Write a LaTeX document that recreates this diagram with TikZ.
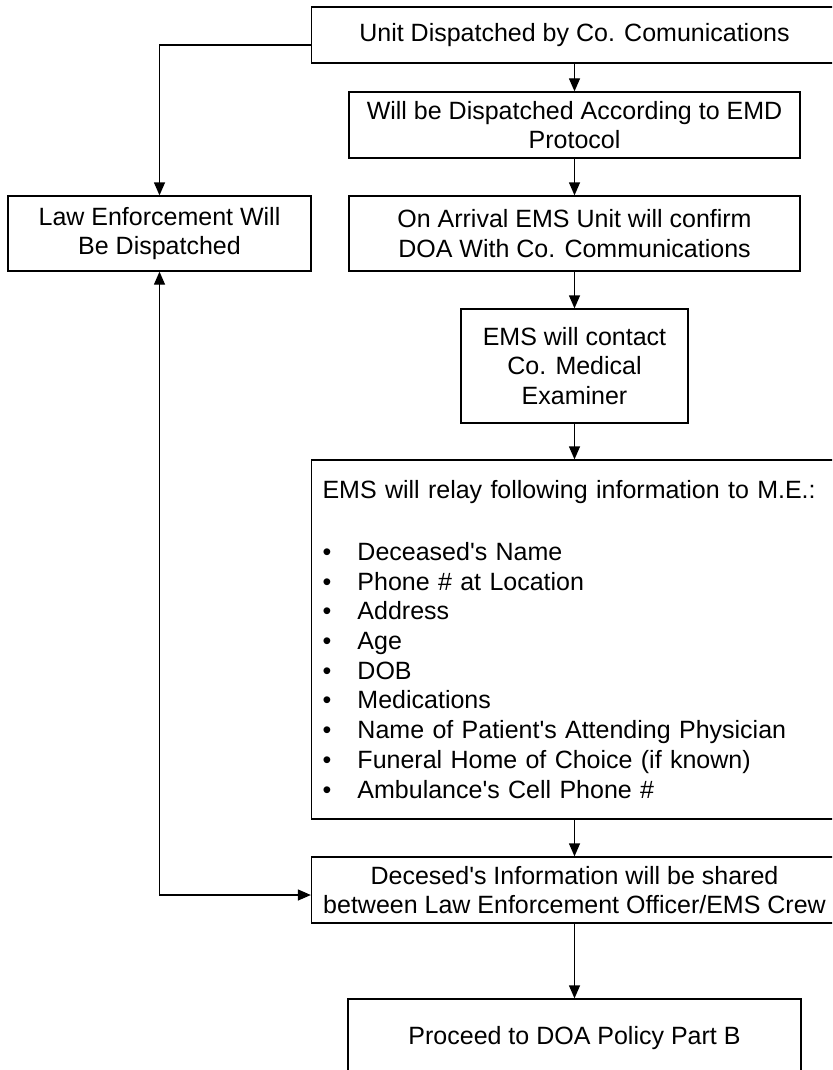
\documentclass[tikz,border=0pt]{standalone}
\usepackage{fontspec}
\setmainfont{Liberation Sans}
\usetikzlibrary{arrows.meta,calc}
\newcommand{\apos}{\textquotesingle}
\begin{document}
\begin{tikzpicture}[x=1pt,y=-1pt,
  box/.style={draw=black, line width=1.3pt, inner sep=0pt, align=center,
    font=\fontsize{25}{29.7}\selectfont},
  flow/.style={draw=black, line width=1.3pt, -{Triangle[length=13pt,width=11pt]}},
  flowboth/.style={draw=black, line width=1.3pt, {Triangle[length=13pt,width=11pt]}-{Triangle[length=13pt,width=11pt]}}]
\useasboundingbox (0,0) rectangle (832,1070);
\fill[white] (0,0) rectangle (832,1070);
\clip (0,0) rectangle (832,1070);

\node[box, minimum width=526pt, minimum height=56pt] (unit) at (574.5,35) {Unit Dispatched by Co. Comunications};
\node[box, minimum width=451pt, minimum height=66pt] (emd) at (574.5,125) {Will be Dispatched According to EMD\\Protocol};
\node[box, minimum width=303pt, minimum height=75pt] (law) at (159.5,233.5) {Law Enforcement Will\\Be Dispatched};
\node[box, minimum width=451pt, minimum height=75pt] (arrival) at (574.5,233.5) {On Arrival EMS Unit will confirm\\DOA With Co. Communications};
\node[box, minimum width=227pt, minimum height=114pt] (contact) at (574.5,366) {EMS will contact\\Co. Medical\\Examiner};
\node[box, minimum width=526pt, minimum height=359pt, text width=504pt, align=left] (relay) at (574.5,639.5)
  {EMS will relay following information to M.E.:\\[32pt]
   \makebox[35pt][l]{\textbullet}Deceased\apos s Name\\
   \makebox[35pt][l]{\textbullet}Phone \# at Location\\
   \makebox[35pt][l]{\textbullet}Address\\
   \makebox[35pt][l]{\textbullet}Age\\
   \makebox[35pt][l]{\textbullet}DOB\\
   \makebox[35pt][l]{\textbullet}Medications\\
   \makebox[35pt][l]{\textbullet}Name of Patient\apos s Attending Physician\\
   \makebox[35pt][l]{\textbullet}Funeral Home of Choice (if known)\\
   \makebox[35pt][l]{\textbullet}Ambulance\apos s Cell Phone \#};
\node[box, minimum width=526pt, minimum height=66pt] (shared) at (574.5,890) {Decesed\apos s Information will be shared\\between Law Enforcement Officer/EMS Crew};
\node[box, minimum width=453pt, minimum height=78pt] (partb) at (574.5,1038) {Proceed to DOA Policy Part B};

\coordinate (lk) at (159,45);
\coordinate (sk) at (159,895);

\draw[flow] (unit) -- (emd);
\draw[flow] (emd) -- (arrival);
\draw[flow] (arrival) -- (contact);
\draw[flow] (contact) -- (relay);
\draw[flow] (relay) -- (shared);
\draw[flow] (shared) -- (partb);
\draw[flow] (unit.west |- lk) -| (law.north);
\draw[flowboth] (law.south) |- (shared.west |- sk);
\end{tikzpicture}
\end{document}
